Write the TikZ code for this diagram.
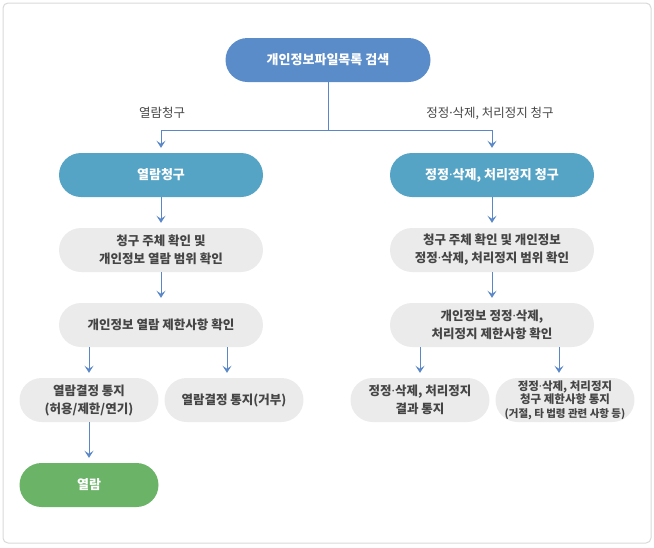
\documentclass[tikz,border=0pt]{standalone}
\usepackage{fontspec}
\setmainfont{Noto Sans CJK KR}
\newfontfamily\dotfont{Noto Sans}
\usepackage{tikz}
\usetikzlibrary{arrows.meta}
\definecolor{topblue}{HTML}{5B8CCA}
\definecolor{reqteal}{HTML}{55A4C6}
\definecolor{okgreen}{HTML}{6AB367}
\definecolor{boxgray}{HTML}{EBEBEB}
\definecolor{txtgray}{HTML}{454545}
\definecolor{arrblue}{HTML}{5A87C7}
\definecolor{rimgray}{HTML}{D9D9D9}
\newcommand\mdot{{\dotfont·}}

\begin{document}
\begin{tikzpicture}[x=1pt,y=-1pt,
  every node/.style={align=center,font=\fontsize{12.5}{18}\selectfont},
  pill/.style={rounded corners=22pt,minimum width=204pt,minimum height=44pt,inner sep=0pt},
  hd/.style={pill,fill=#1,text=white,font=\fontsize{13}{18}\selectfont\bfseries},
  gr/.style={pill,fill=boxgray,text=txtgray,font=\fontsize{12.5}{18}\selectfont\bfseries},
  sm/.style={minimum width=139pt},
  lbl/.style={text=txtgray,font=\fontsize{12.5}{15}\selectfont},
  ln/.style={line width=1pt,draw=arrblue},
  e/.style={ln,-{Stealth[length=7pt,width=9pt,inset=3pt]}}]
 \useasboundingbox (0,0) rectangle (654,547);
 \draw[rimgray,line width=1pt,rounded corners=5pt] (3,3) rectangle (651,543);
 % top and request types
 \node[hd=topblue,minimum width=205pt] (top) at (328,60) {개인정보파일목록 검색};
 \node[lbl] (rlab) at (162,113) {열람청구};
 \node[lbl] (clab) at (490,113) {정정\mdot 삭제, 처리정지 청구};
 \coordinate (split) at (328,130);
 \node[hd=reqteal] (rq) at (161,175) {열람청구};
 \node[hd=reqteal] (cq) at (492,175) {정정\mdot 삭제, 처리정지 청구};
 % checks
 \node[gr] (rchk) at (161,250) {청구 주체 확인 및\\개인정보 열람 범위 확인};
 \node[gr] (cchk) at (492,250) {청구 주체 확인 및 개인정보\\정정\mdot 삭제, 처리정지 범위 확인};
 \node[gr] (rlim) at (161,325) {개인정보 열람 제한사항 확인};
 \node[gr] (clim) at (492,325) {개인정보 정정\mdot 삭제,\\처리정지 제한사항 확인};
 % notices
 \node[gr,sm] (rok) at (89,400) {열람결정 통지\\(허용/제한/연기)};
 \node[gr,sm] (rno) at (234,400) {열람결정 통지(거부)};
 \node[gr,sm] (cres) at (420,400) {정정\mdot 삭제, 처리정지\\결과 통지};
 \node[gr,sm,font=\fontsize{11.5}{13.5}\selectfont\bfseries] (cno) at (565,400) {정정\mdot 삭제, 처리정지\\청구 제한사항 통지\\{\fontsize{10.5}{13.5}\selectfont(거절, 타 법령 관련 사항 등)}};
 \node[hd=okgreen,sm] (view) at (89,485) {열람};
 \coordinate (rnoin) at ([xshift=-7pt,yshift=5pt]rno.north);
 \coordinate (cnoin) at ([xshift=-6pt,yshift=5pt]cno.north);
 \draw[ln] (top) -- (split);
 \draw[e] (split) -| ([yshift=5pt]rq.north); \draw[e] (split) -| ([yshift=5pt]cq.north);
 \draw[e] (rq) -- ([yshift=5pt]rchk.north); \draw[e] (cq) -- ([yshift=5pt]cchk.north);
 \draw[e] (rchk) -- ([yshift=5pt]rlim.north); \draw[e] (cchk) -- ([yshift=5pt]clim.north);
 \draw[e] (rlim.south -| rok) -- ([yshift=5pt]rok.north); \draw[e] (rlim.south -| rnoin) -- (rnoin);
 \draw[e] (clim.south -| cres) -- ([yshift=5pt]cres.north); \draw[e] (clim.south -| cnoin) -- (cnoin);
 \draw[e] (rok) -- ([yshift=5pt]view.north);
\end{tikzpicture}
\end{document}
